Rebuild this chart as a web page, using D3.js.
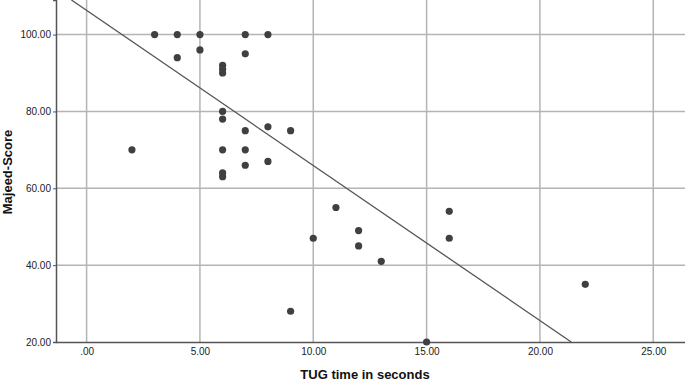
<!DOCTYPE html>
<html>
<head>
<meta charset="utf-8">
<script src="https://cdn.jsdelivr.net/npm/d3@7"></script>
<style>
    body { margin: 0; background: #fff; }
    svg { display: block; font-family: Arial, "Liberation Sans", sans-serif; }
</style>
</head>
<body>
<svg width="685" height="381"></svg>
<script>
// TUG time (s) vs Majeed score
const tugTime = [3, 4, 5, 7, 8, 4, 5, 7, 6, 6, 6, 6, 6, 8, 7, 9, 2, 6, 7, 8, 7, 6, 6, 11, 10, 9, 12, 12, 13, 16, 16, 22, 15];
const majeed  = [100, 100, 100, 100, 100, 94, 96, 95, 92, 91, 90, 80, 78, 76, 75, 75, 70, 70, 70, 67, 66, 64, 63, 55, 47, 28, 49, 45, 41, 54, 47, 35, 20];

const xTicks = [0, 5, 10, 15, 20, 25];
const yTicks = [20, 40, 60, 80, 100];

// fit line
const fitIntercept = 106.3;
const fitSlope = -4.036;

const svg = d3.select("svg");
const plotL = 56, plotR = 685, plotT = 0, plotB = 342;

const x = d3.scaleLinear().domain([-1.35, 26.4]).range([plotL, plotR]);
const y = d3.scaleLinear().domain([20, 109]).range([plotB, plotT]);

const fmt = d3.format(".2f");
const tickFmt = d => d === 0 ? ".00" : fmt(d);

// grid
svg.append("g")
    .selectAll("line")
    .data(xTicks)
    .enter()
    .append("line")
    .attr("x1", d => x(d)).attr("x2", d => x(d))
    .attr("y1", plotT).attr("y2", plotB)
    .attr("stroke", "#b4b4b4")
    .attr("stroke-width", 1.5);

svg.append("g")
    .selectAll("line")
    .data(yTicks.filter(d => d > 20))
    .enter()
    .append("line")
    .attr("x1", plotL).attr("x2", plotR)
    .attr("y1", d => y(d)).attr("y2", d => y(d))
    .attr("stroke", "#b4b4b4")
    .attr("stroke-width", 1.5);

// axes
const xAxis = svg.append("g")
    .attr("transform", `translate(0,${plotB})`)
    .call(d3.axisBottom(x).tickValues(xTicks).tickFormat(tickFmt).tickSize(0).tickPadding(6));

const yAxis = svg.append("g")
    .attr("transform", `translate(${plotL},0)`)
    .call(d3.axisLeft(y).tickValues(yTicks).tickFormat(tickFmt).tickSize(3).tickPadding(2));

[xAxis, yAxis].forEach(a => {
    a.select(".domain").attr("stroke", "#555").attr("stroke-width", 1.5);
    a.selectAll(".tick line").attr("stroke", "#555");
    a.selectAll("text").attr("fill", "#222").style("font-size", "10px").style("font-family", "Arial, 'Liberation Sans', sans-serif");
});

// fit line, clipped to the plot area
svg.append("clipPath").attr("id", "plotclip")
    .append("rect").attr("x", plotL).attr("y", plotT).attr("width", plotR - plotL).attr("height", plotB - plotT);

const x0 = (109 - fitIntercept) / fitSlope;
const x1 = (20 - fitIntercept) / fitSlope;
svg.append("line")
    .attr("clip-path", "url(#plotclip)")
    .attr("x1", x(x0)).attr("y1", y(fitIntercept + fitSlope * x0))
    .attr("x2", x(x1)).attr("y2", y(fitIntercept + fitSlope * x1))
    .attr("stroke", "#555")
    .attr("stroke-width", 1.3);

// points
svg.append("g")
    .selectAll("circle")
    .data(tugTime.map((t, i) => [t, majeed[i]]))
    .enter()
    .append("circle")
    .attr("cx", d => x(d[0]))
    .attr("cy", d => y(d[1]))
    .attr("r", 3.6)
    .attr("fill", "#404040");

// titles
svg.append("text")
    .attr("x", 365)
    .attr("y", 379)
    .attr("text-anchor", "middle")
    .style("font-size", "13px")
    .style("font-weight", "bold")
    .attr("fill", "#111")
    .text("TUG time in seconds");

svg.append("text")
    .attr("transform", "translate(12,172) rotate(-90)")
    .attr("text-anchor", "middle")
    .style("font-size", "13px")
    .style("font-weight", "bold")
    .attr("fill", "#111")
    .text("Majeed-Score");
</script>
</body>
</html>
